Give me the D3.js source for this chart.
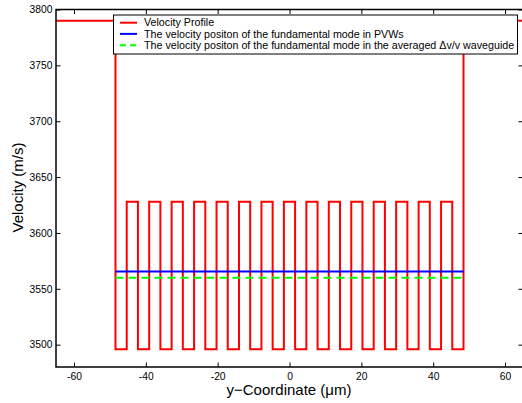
<!DOCTYPE html>
<html>
<head>
<meta charset="utf-8">
<script src="https://cdn.jsdelivr.net/npm/d3@7"></script>
<style>
  html, body { margin: 0; padding: 0; background: #fff; }
  svg { display: block; font-family: "Liberation Sans", Arial, Helvetica, sans-serif; }
</style>
</head>
<body>
<svg id="chart" width="522" height="403"></svg>
<script>
// ---- data ----
const xEdges = [-70, -48.44, -45.31, -42.19, -39.06, -35.94, -32.81, -29.69, -26.56, -23.44, -20.31,
  -17.19, -14.06, -10.94, -7.81, -4.69, -1.56, 1.56, 4.69, 7.81, 10.94, 14.06, 17.19, 20.31,
  23.44, 26.56, 29.69, 32.81, 35.94, 39.06, 42.19, 45.31, 48.44, 70];
const profileVelocity = [3790,
  3496, 3628, 3496, 3628, 3496, 3628, 3496, 3628, 3496, 3628, 3496, 3628, 3496, 3628, 3496, 3628,
  3496, 3628, 3496, 3628, 3496, 3628, 3496, 3628, 3496, 3628, 3496, 3628, 3496, 3628, 3496,
  3790];
const modeX = [-48.44, 48.44];
const modePVW = [3565.4, 3565.4];
const modeAvg = [3560, 3560];
const xTicks = [-60, -40, -20, 0, 20, 40, 60];
const yTicks = [3500, 3550, 3600, 3650, 3700, 3750, 3800];
const legendLabels = ["Velocity Profile",
  "The velocity positon of the fundamental mode in PVWs",
  "The velocity positon of the fundamental mode in the averaged \u0394v/v waveguide"];

// ---- layout ----
const svg = d3.select("#chart");
const L = 56, R = 523, T = 9.5, B = 367;
const x = d3.scaleLinear().domain([-65, 65]).range([L, R]);
const y = d3.scaleLinear().domain([3480, 3800]).range([B, T]);

svg.append("clipPath").attr("id", "clip").append("rect")
  .attr("x", L).attr("y", T).attr("width", R - L).attr("height", B - T);

const plot = svg.append("g").attr("clip-path", "url(#clip)");

// profile points
const pts = [];
profileVelocity.forEach((v, i) => { pts.push([xEdges[i], v]); pts.push([xEdges[i + 1], v]); });
const line = d3.line().x(d => x(d[0])).y(d => y(d[1]));

plot.append("path").datum(pts).attr("d", line)
  .attr("fill", "none").attr("stroke", "#ff0000").attr("stroke-width", 2);

plot.append("path").datum(modeX.map((d, i) => [d, modePVW[i]])).attr("d", line)
  .attr("fill", "none").attr("stroke", "#0000ff").attr("stroke-width", 2);

plot.append("path").datum(modeX.map((d, i) => [d, modeAvg[i]])).attr("d", line)
  .attr("fill", "none").attr("stroke", "#00ff00").attr("stroke-width", 2)
  .attr("stroke-dasharray", "8,5");

// axes (inward ticks, box)
const tl = 4.5;
const axB = svg.append("g").attr("transform", `translate(0,${B})`)
  .call(d3.axisBottom(x).tickValues(xTicks).tickSizeInner(-tl).tickSizeOuter(0).tickPadding(6).tickFormat(d => String(d)));
const axT = svg.append("g").attr("transform", `translate(0,${T})`)
  .call(d3.axisTop(x).tickValues(xTicks).tickSizeInner(-tl).tickSizeOuter(0).tickFormat(""));
const axL = svg.append("g").attr("transform", `translate(${L},0)`)
  .call(d3.axisLeft(y).tickValues(yTicks).tickSizeInner(-tl).tickSizeOuter(0).tickPadding(3.5).tickFormat(d => String(d)));
const axR = svg.append("g").attr("transform", `translate(${R},0)`)
  .call(d3.axisRight(y).tickValues(yTicks).tickSizeInner(-tl).tickSizeOuter(0).tickFormat(""));
[axB, axT, axL, axR].forEach(a => {
  a.select(".domain").remove();
  a.selectAll(".tick line").attr("stroke", "#000").attr("stroke-width", 1);
  a.selectAll(".tick text").attr("fill", "#000").style("font-size", "10.3px");
});
svg.append("rect").attr("x", L).attr("y", T).attr("width", R - L).attr("height", B - T)
  .attr("fill", "none").attr("stroke", "#000").attr("stroke-width", 1.5);

// axis labels
svg.append("text").attr("x", 289).attr("y", 395).attr("text-anchor", "middle")
  .style("font-size", "15px").text("y\u2212Coordinate (\u03bcm)");
svg.append("text").attr("transform", "translate(23,187.5) rotate(-90)").attr("text-anchor", "middle")
  .style("font-size", "15px").text("Velocity (m/s)");

// legend
const lg = svg.append("g");
lg.append("rect").attr("x", 113.5).attr("y", 15).attr("width", 404).attr("height", 39)
  .attr("fill", "#fff").attr("stroke", "#000").attr("stroke-width", 1);
const lgColors = ["#ff0000", "#0000ff", "#00ff00"];
const lgY = [22.7, 33.9, 45.2];
legendLabels.forEach((t, i) => {
  lg.append("line").attr("x1", 120).attr("x2", 137).attr("y1", lgY[i]).attr("y2", lgY[i])
    .attr("stroke", lgColors[i]).attr("stroke-width", 2)
    .attr("stroke-dasharray", i === 2 ? "6,4" : null);
  lg.append("text").attr("x", 144).attr("y", lgY[i] + 3.6).style("font-size", "10.7px").text(t);
});
</script>
</body>
</html>
